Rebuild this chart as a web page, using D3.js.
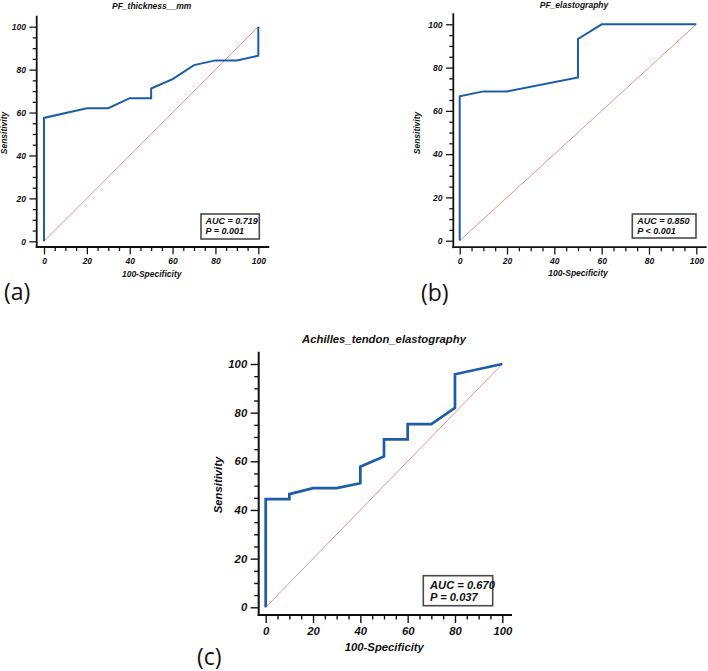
<!DOCTYPE html>
<html><head><meta charset="utf-8">
<script src="https://cdn.jsdelivr.net/npm/d3@7"></script>
<style>body{margin:0;background:#fff}svg{display:block}</style>
</head><body>
<svg id="chart" width="708" height="671"></svg>
<script>
// ---- data ----
const majorTicks = [0, 20, 40, 60, 80, 100];
const minorTicks = [5, 10, 15, 25, 30, 35, 45, 50, 55, 65, 70, 75, 85, 90, 95];

const titles = ["PF_thickness__mm", "PF_elastography", "Achilles_tendon_elastography"];
const panelLetters = ["(a)", "(b)", "(c)"];
const aucLines = [["AUC = 0.719", "P = 0.001"], ["AUC = 0.850", "P < 0.001"], ["AUC = 0.670", "P = 0.037"]];

const rocA_x = [0, 0, 20, 30, 40, 50, 50, 60, 70, 80, 90, 100, 100];
const rocA_y = [0, 57.5, 62, 62, 66.7, 66.7, 71.2, 75.6, 82.1, 84.3, 84.3, 86.5, 100];

const rocB_x = [0, 0, 10, 20, 50, 50, 60, 100];
const rocB_y = [0, 66.7, 69, 69, 75.4, 93.2, 100, 100];

const rocC_x = [0, 0, 10, 10, 20, 30, 40, 40, 50, 50, 60, 60, 70, 80, 80, 100];
const rocC_y = [0, 44.5, 44.5, 46.5, 49, 49, 51, 57.8, 62, 69, 69, 75.3, 75.3, 82, 95.8, 100];

const diagX = [0, 100];
const diagY = [0, 100];

const xTitle = "100-Specificity";
const yTitle = "Sensitivity";

// ---- layout ----
const panels = [
  {rx: rocA_x, ry: rocA_y, x0: 44, x1: 258.3, y0: 241.3, y1: 26.7, axX: 36.7, axY: 247, axTop: 15.7, axRight: 269.3,
   titleX: 151.7, titleY: 9, xlabX: 151.7, xlabY: 276.5, ylabX: 7.3, ylabY: 133,
   box: [201, 214, 259.3, 239], txtX: 205.5, txtY: [224.3, 234.3],
   fs: 8.5, fsBox: 9, lw: 2, aw: 1.8, maj: 7.3, min: 4, pad: 3.5, tickBase: 264,
   letterX: 4, letterY: 300},
  {rx: rocB_x, ry: rocB_y, x0: 459.7, x1: 696.3, y0: 240.7, y1: 24.3, axX: 453.3, axY: 247.2, axTop: 13.3, axRight: 706.7,
   titleX: 574, titleY: 7.5, xlabX: 578, xlabY: 276, ylabX: 419.7, ylabY: 133,
   box: [632.3, 214, 696, 238], txtX: 637.3, txtY: [224.3, 234.3],
   fs: 8.5, fsBox: 9, lw: 2, aw: 1.8, maj: 7.3, min: 4, pad: 3.5, tickBase: 264,
   letterX: 421, letterY: 301},
  {rx: rocC_x, ry: rocC_y, x0: 265.7, x1: 502.3, y0: 607.3, y1: 364, axX: 258.7, axY: 615, axTop: 351.7, axRight: 512,
   titleX: 384, titleY: 342.5, xlabX: 384.3, xlabY: 650.5, ylabX: 221.7, ylabY: 485,
   box: [423.3, 575.7, 492.7, 605.7], txtX: 430, txtY: [588.5, 601],
   fs: 11.3, fsBox: 11.2, lw: 2.7, aw: 2, maj: 8, min: 4.5, pad: 3.5, tickBase: 635,
   letterX: 197, letterY: 665}
];

const svg = d3.select("#chart");
const FONT = "'Liberation Sans', Arial, sans-serif";
const BLUE = "#1d5ca8";

panels.forEach((p, i) => {
  const g = svg.append("g");
  const x = d3.scaleLinear().domain([0, 100]).range([p.x0, p.x1]);
  const y = d3.scaleLinear().domain([0, 100]).range([p.y0, p.y1]);

  // diagonal reference
  g.append("path")
    .datum(diagX.map((d, k) => [d, diagY[k]]))
    .attr("d", d3.line().x(d => x(d[0])).y(d => y(d[1])))
    .attr("fill", "none").attr("stroke", "#e27272").attr("stroke-width", 0.8);

  // ROC curve
  g.append("path")
    .datum(p.rx.map((d, k) => [d, p.ry[k]]))
    .attr("d", d3.line().x(d => x(d[0])).y(d => y(d[1])))
    .attr("fill", "none").attr("stroke", BLUE).attr("stroke-width", p.lw)
    .attr("stroke-linejoin", "miter");

  // axes: major & minor ticks
  const styleAxis = sel => {
    sel.select(".domain").remove();
    sel.selectAll("line").attr("stroke", "#111").attr("stroke-width", p.aw * 0.7);
    sel.selectAll("text").attr("font-family", FONT).attr("font-weight", "bold")
      .attr("font-style", "italic").attr("font-size", p.fs).attr("fill", "#111");
  };
  const xg = g.append("g").attr("transform", `translate(0,${p.axY})`);
  xg.call(d3.axisBottom(x).tickValues(majorTicks).tickSize(p.maj).tickPadding(p.pad).tickFormat(d3.format("d")));
  styleAxis(xg);
  xg.selectAll("text").attr("dy", null).attr("y", p.tickBase - p.axY);
  const xgm = g.append("g").attr("transform", `translate(0,${p.axY})`);
  xgm.call(d3.axisBottom(x).tickValues(minorTicks).tickSize(p.min).tickFormat(""));
  styleAxis(xgm);

  const yg = g.append("g").attr("transform", `translate(${p.axX},0)`);
  yg.call(d3.axisLeft(y).tickValues(majorTicks).tickSize(p.maj).tickPadding(p.pad).tickFormat(d3.format("d")));
  styleAxis(yg);
  const ygm = g.append("g").attr("transform", `translate(${p.axX},0)`);
  ygm.call(d3.axisLeft(y).tickValues(minorTicks).tickSize(p.min).tickFormat(""));
  styleAxis(ygm);

  // axis lines
  g.append("line").attr("x1", p.axX).attr("x2", p.axX).attr("y1", p.axTop).attr("y2", p.axY + p.aw / 2)
    .attr("stroke", "#111").attr("stroke-width", p.aw);
  g.append("line").attr("x1", p.axX - p.aw / 2).attr("x2", p.axRight).attr("y1", p.axY).attr("y2", p.axY)
    .attr("stroke", "#111").attr("stroke-width", p.aw);

  const txt = (tx, ty, s, size, extra) => {
    const t = g.append("text").attr("x", tx).attr("y", ty).text(s)
      .attr("font-family", FONT).attr("font-weight", "bold").attr("font-style", "italic")
      .attr("font-size", size).attr("fill", "#111");
    if (extra) extra(t);
    return t;
  };
  txt(p.titleX, p.titleY, titles[i], p.fs, t => t.attr("text-anchor", "middle"));
  txt(p.xlabX, p.xlabY, xTitle, p.fs, t => t.attr("text-anchor", "middle"));
  g.append("text").attr("transform", `translate(${p.ylabX},${p.ylabY}) rotate(-90)`)
    .attr("text-anchor", "middle").text(yTitle)
    .attr("font-family", FONT).attr("font-weight", "bold").attr("font-style", "italic")
    .attr("font-size", p.fs).attr("fill", "#111");

  // AUC box
  g.append("rect").attr("x", p.box[0]).attr("y", p.box[1])
    .attr("width", p.box[2] - p.box[0]).attr("height", p.box[3] - p.box[1])
    .attr("fill", "#fff").attr("stroke", "#4a4a4a").attr("stroke-width", 1.6);
  aucLines[i].forEach((s, k) => txt(p.txtX, p.txtY[k], s, p.fsBox));

  // panel letter
  g.append("text").attr("x", p.letterX).attr("y", p.letterY).text(panelLetters[i])
    .attr("font-family", "'Open Sans', 'Liberation Sans', sans-serif").attr("font-size", 23).attr("fill", "#111");
});
</script>
</body></html>
